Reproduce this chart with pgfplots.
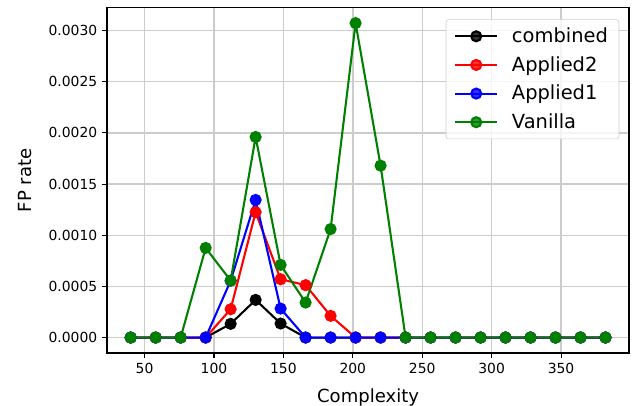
\documentclass[border=0pt]{standalone}
\usepackage{pgfplots}
\pgfplotsset{compat=1.18}
\usepackage{fontspec}
\setmainfont{DejaVu Sans}
\definecolor{mplgreen}{RGB}{0,128,0}
\definecolor{gridgray}{RGB}{204,204,204}
\begin{document}
\begin{tikzpicture}
\begin{axis}[
  scale only axis,
  width=376.1bp, height=249.1bp,
  xmin=22.9, xmax=399.1,
  ymin=-0.000154, ymax=0.003227,
  xtick={50,100,150,200,250,300,350},
  ytick={0,0.0005,0.001,0.0015,0.002,0.0025,0.003},
  scaled y ticks=false,
  yticklabel style={/pgf/number format/.cd, fixed, fixed zerofill, precision=4, assume math mode=true},
  xticklabel style={/pgf/number format/assume math mode=true},
  tick label style={font=\fontsize{10bp}{12bp}\selectfont},
  label style={font=\fontsize{13bp}{15bp}\selectfont},
  xtick pos=left, ytick pos=left,
  tick align=outside,
  major tick length=3.5bp,
  every tick/.style={black, line width=0.8bp},
  axis line style={line width=1.2bp},
  grid=major,
  major grid style={gridgray, line width=1bp},
  xlabel={Complexity},
  ylabel={FP rate},
  xlabel style={at={(axis description cs:0.5,0)}, anchor=base, yshift=-35.3bp},
  ylabel style={at={(axis description cs:-0.157,0.5)}, anchor=center},
  legend style={at={(1,1)}, anchor=north east, xshift=-7.2bp, yshift=-8.6bp,
    font=\fontsize{14bp}{17bp}\selectfont, draw=gridgray, rounded corners=2bp,
    fill=white, fill opacity=0.8, text opacity=1, row sep=4.5bp, column sep=8bp,
    inner xsep=6bp, inner ysep=4bp},
  legend cell align=left,
  legend image code/.code={\draw[mark repeat=2,mark phase=2] plot coordinates {(0bp,0bp)(15bp,0bp)(30bp,0bp)};},
  every axis plot/.append style={line width=1.5bp, mark=*, mark size=3.6bp, mark options={solid, draw=none}},
]
\addplot[black, mark options={fill=black}] coordinates {
(40,0)(58,0)(76,0)(94,0)(112,0.000134)(130,0.000368)(148,0.000137)(166,0)(184,0)(202,0)(220,0)(238,0)(256,0)(274,0)(292,0)(310,0)(328,0)(346,0)(364,0)(382,0)};
\addlegendentry{combined}
\addplot[red, mark options={fill=red}] coordinates {
(40,0)(58,0)(76,0)(94,0)(112,0.000277)(130,0.001225)(148,0.000570)(166,0.000512)(184,0.000212)(202,0)(220,0)(238,0)(256,0)(274,0)(292,0)(310,0)(328,0)(346,0)(364,0)(382,0)};
\addlegendentry{Applied2}
\addplot[blue, mark options={fill=blue}] coordinates {
(40,0)(58,0)(76,0)(94,0)(112,0.000555)(130,0.001345)(148,0.000283)(166,0)(184,0)(202,0)(220,0)(238,0)(256,0)(274,0)(292,0)(310,0)(328,0)(346,0)(364,0)(382,0)};
\addlegendentry{Applied1}
\addplot[mplgreen, mark options={fill=mplgreen}] coordinates {
(40,0)(58,0)(76,0)(94,0.000876)(112,0.000557)(130,0.00196)(148,0.00071)(166,0.000342)(184,0.00106)(202,0.003073)(220,0.00168)(238,0)(256,0)(274,0)(292,0)(310,0)(328,0)(346,0)(364,0)(382,0)};
\addlegendentry{Vanilla}
\end{axis}
\pgfresetboundingbox
\path ([xshift=-77bp,yshift=-37.9bp]current axis.south west) rectangle ([xshift=6.3bp,yshift=5.3bp]current axis.north east);
\end{tikzpicture}
\end{document}
